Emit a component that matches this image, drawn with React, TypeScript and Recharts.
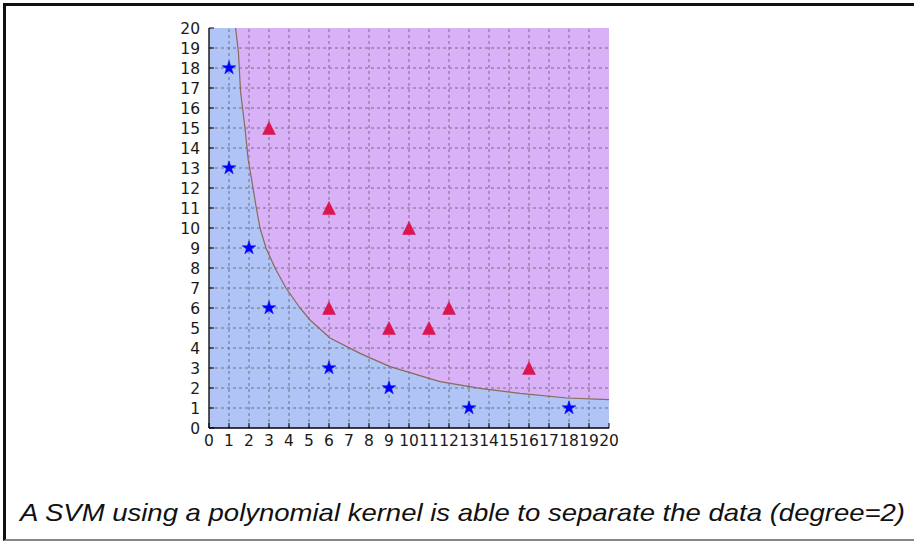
import {
  ComposedChart,
  Area,
  Line,
  Scatter,
  XAxis,
  YAxis,
  ZAxis,
  CartesianGrid,
  ReferenceLine,
} from 'recharts'

// integer ticks used on every side of the frame and for the dashed grid
const axisTicks = [0, 1, 2, 3, 4, 5, 6, 7, 8, 9, 10, 11, 12, 13, 14, 15, 16, 17, 18, 19, 20]
const gridLines = [1, 2, 3, 4, 5, 6, 7, 8, 9, 10, 11, 12, 13, 14, 15, 16, 17, 18, 19]

// decision boundary of the degree-2 polynomial SVM
const boundary = [
  { x: 1.33, y: 20 },
  { x: 1.47, y: 18.8 },
  { x: 1.58, y: 16.8 },
  { x: 1.8, y: 15 },
  { x: 1.95, y: 13.5 },
  { x: 2.05, y: 12.9 },
  { x: 2.35, y: 11.1 },
  { x: 2.55, y: 10 },
  { x: 2.85, y: 9 },
  { x: 3.3, y: 8 },
  { x: 3.85, y: 7 },
  { x: 4.55, y: 6 },
  { x: 5.05, y: 5.4 },
  { x: 6.05, y: 4.5 },
  { x: 7.55, y: 3.73 },
  { x: 9.05, y: 3.07 },
  { x: 10.05, y: 2.77 },
  { x: 11.55, y: 2.32 },
  { x: 13.55, y: 1.98 },
  { x: 15.55, y: 1.73 },
  { x: 17.9, y: 1.5 },
  { x: 20, y: 1.42 },
]

// region below the boundary (class "star")
const lowerRegion = [{ x: 0, y: 20 }, ...boundary]

const starPoints = [
  { x: 1, y: 18 },
  { x: 1, y: 13 },
  { x: 2, y: 9 },
  { x: 3, y: 6 },
  { x: 6, y: 3 },
  { x: 9, y: 2 },
  { x: 13, y: 1 },
  { x: 18, y: 1 },
]

const trianglePoints = [
  { x: 3, y: 15 },
  { x: 6, y: 11 },
  { x: 10, y: 10 },
  { x: 6, y: 6 },
  { x: 9, y: 5 },
  { x: 11, y: 5 },
  { x: 12, y: 6 },
  { x: 16, y: 3 },
]

const caption = 'A SVM using a polynomial kernel is able to separate the data (degree=2)'

const StarShape = ({ cx, cy }: any) => {
  const outer = 7.2
  const inner = outer * 0.382
  const pts: string[] = []
  for (let i = 0; i < 10; i++) {
    const r = i % 2 === 0 ? outer : inner
    const a = -Math.PI / 2 + (i * Math.PI) / 5
    pts.push(`${cx + r * Math.cos(a)},${cy + r * Math.sin(a)}`)
  }
  return <polygon points={pts.join(' ')} fill="#0000ff" stroke="#0000ff" strokeWidth={0.5} />
}

const TriangleShape = ({ cx, cy }: any) => {
  const h = 6.5
  return (
    <polygon
      points={`${cx},${cy - h} ${cx - h},${cy + h} ${cx + h},${cy + h}`}
      fill="#dc1450"
      stroke="#dc1450"
      strokeWidth={0.5}
    />
  )
}

const tickStyle = { fontSize: 15.5, fill: '#1a1a1a', fontFamily: 'DejaVu Sans' }

export default function App() {
  return (
    <div
      style={{
        position: 'absolute',
        left: 0,
        top: 0,
        width: 914,
        height: 542,
        background: '#fff',
        overflow: 'hidden',
      }}
    >
      <div
        style={{
          position: 'absolute',
          left: 3,
          top: 3,
          width: 930,
          height: 533,
          borderLeft: '3px solid #111',
          borderTop: '3px solid #111',
          borderBottom: '2px solid #888',
        }}
      />
      <div style={{ position: 'absolute', left: 0, top: 0 }}>
        <ComposedChart
          width={700}
          height={470}
          margin={{ top: 28, right: 91, left: 169, bottom: 12 }}
        >
          <CartesianGrid fill="#d9b1f7" fillOpacity={1} horizontal={false} vertical={false} />
          <XAxis
            dataKey="x"
            type="number"
            domain={[0, 20]}
            ticks={axisTicks}
            interval={0}
            allowDataOverflow
            height={30}
            tickSize={-5}
            tickMargin={12}
            tick={tickStyle}
            stroke="#000"
            axisLine={{ stroke: '#000', strokeWidth: 1.3 }}
            tickLine={{ stroke: '#000' }}
          />
          <XAxis
            xAxisId="top"
            orientation="top"
            dataKey="x"
            type="number"
            domain={[0, 20]}
            ticks={axisTicks}
            interval={0}
            height={0}
            tickSize={-5}
            tick={false}
            axisLine={{ stroke: '#000', strokeWidth: 1.3 }}
            tickLine={{ stroke: '#000' }}
          />
          <YAxis
            type="number"
            domain={[0, 20]}
            ticks={axisTicks}
            interval={0}
            allowDataOverflow
            width={40}
            tickSize={-5}
            tickMargin={14}
            tick={tickStyle}
            axisLine={{ stroke: '#000', strokeWidth: 1.3 }}
            tickLine={{ stroke: '#000' }}
          />
          <YAxis
            yAxisId="right"
            orientation="right"
            type="number"
            domain={[0, 20]}
            ticks={axisTicks}
            interval={0}
            width={0}
            tickSize={-5}
            tick={false}
            axisLine={{ stroke: '#000', strokeWidth: 1.3 }}
            tickLine={{ stroke: '#000' }}
          />
          <ZAxis range={[80, 80]} />
          <Area
            data={lowerRegion}
            dataKey="y"
            type="linear"
            fill="#b0c4f6"
            fillOpacity={1}
            stroke="none"
            isAnimationActive={false}
          />
          {gridLines.map((v) => (
            <ReferenceLine key={`v${v}`} x={v} stroke="#707080" strokeDasharray="3 3" />
          ))}
          {gridLines.map((v) => (
            <ReferenceLine key={`h${v}`} y={v} stroke="#707080" strokeDasharray="3 3" />
          ))}
          <Line
            data={boundary}
            dataKey="y"
            type="linear"
            stroke="#8a6a5a"
            strokeWidth={1.2}
            dot={false}
            activeDot={false}
            isAnimationActive={false}
          />
          <Scatter data={starPoints} dataKey="y" shape={<StarShape />} isAnimationActive={false} />
          <Scatter
            data={trianglePoints}
            dataKey="y"
            shape={<TriangleShape />}
            isAnimationActive={false}
          />
        </ComposedChart>
      </div>
      <svg
        width={914}
        height={542}
        style={{ position: 'absolute', left: 0, top: 0, pointerEvents: 'none' }}
      >
        <text
          x={20}
          y={521}
          textLength={885}
          lengthAdjust="spacingAndGlyphs"
          fontFamily="Liberation Sans, Arial"
          fontStyle="italic"
          fontSize={24}
          fill="#111"
        >
          {caption}
        </text>
      </svg>
    </div>
  )
}
